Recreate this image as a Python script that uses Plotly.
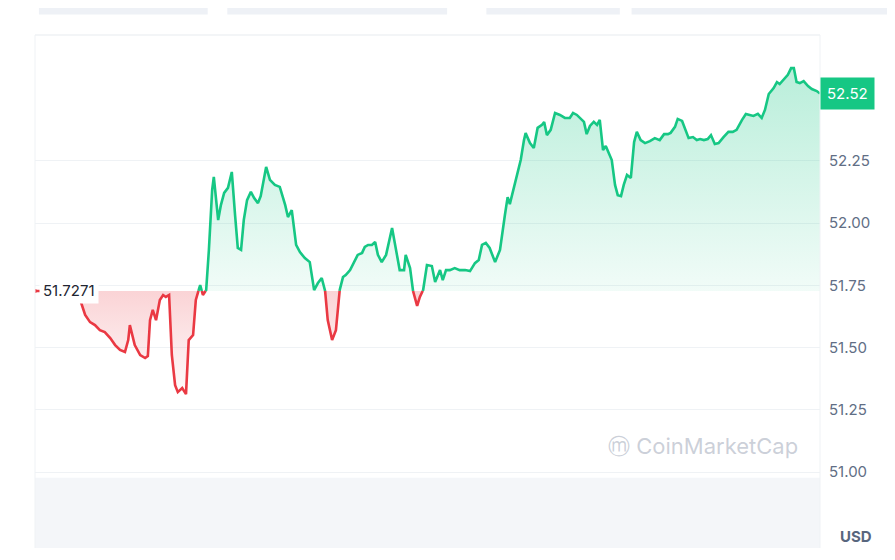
import numpy as np
import plotly.graph_objects as go

# minutes from start of the day, price in USD
minutes = [0, 9, 18, 46, 73, 83, 92, 101, 110, 119, 128, 138, 147, 156, 165, 171, 174, 183, 193, 202,
           207, 211, 216, 222, 229, 235, 240, 246, 251, 257, 262, 270, 277, 282, 290, 295, 303, 308, 314, 319,
           325, 328, 336, 341, 347, 354, 361, 367, 372, 378, 383, 389, 396, 402, 409, 414, 420, 424, 431, 440,
           449, 459, 464, 471, 479, 486, 495, 504, 512, 519, 526, 532, 537, 545, 552, 559, 565, 570, 578, 585,
           592, 600, 605, 611, 618, 624, 629, 636, 644, 655, 662, 669, 677, 680, 688, 693, 701, 706, 712, 719,
           728, 734, 743, 748, 754, 761, 770, 779, 789, 798, 807, 814, 820, 827, 834, 844, 853, 862, 867, 871,
           877, 882, 888, 891, 897, 900, 908, 915, 922, 930, 934, 939, 946, 954, 963, 972, 981, 987, 994, 1000,
           1007, 1012, 1018, 1025, 1031, 1036, 1042, 1047, 1053, 1058, 1064, 1069, 1075, 1080, 1086, 1093, 1099, 1104, 1111, 1119,
           1128, 1137, 1146, 1154, 1161, 1166, 1174, 1179, 1187, 1194, 1199, 1207, 1214, 1220, 1227, 1234, 1240, 1247, 1254, 1263,
           1272, 1280, 1287, 1297, 1304, 1311, 1318, 1326, 1333, 1339, 1346, 1355, 1361, 1366, 1372, 1381, 1387, 1392, 1397, 1403,
           1410, 1418, 1425, 1434, 1440]
prices = [51.7271, 51.727, 51.723, 51.711, 51.699, 51.691, 51.631, 51.602, 51.590, 51.570, 51.562, 51.538, 51.510, 51.490, 51.482, 51.530, 51.590, 51.510, 51.470, 51.458,
          51.466, 51.610, 51.651, 51.610, 51.691, 51.711, 51.703, 51.711, 51.470, 51.349, 51.321, 51.337, 51.313, 51.530, 51.550, 51.691, 51.751, 51.711, 51.731, 51.892,
          52.133, 52.185, 52.012, 52.072, 52.121, 52.141, 52.205, 52.032, 51.900, 51.892, 52.012, 52.092, 52.125, 52.100, 52.080, 52.108, 52.181, 52.225, 52.173, 52.153,
          52.145, 52.072, 52.024, 52.052, 51.912, 51.883, 51.859, 51.843, 51.731, 51.759, 51.779, 51.731, 51.610, 51.530, 51.570, 51.731, 51.783, 51.791, 51.811, 51.839,
          51.872, 51.880, 51.904, 51.912, 51.912, 51.924, 51.872, 51.843, 51.872, 51.980, 51.892, 51.811, 51.811, 51.872, 51.819, 51.731, 51.667, 51.703, 51.731, 51.831,
          51.827, 51.763, 51.811, 51.771, 51.811, 51.811, 51.819, 51.811, 51.811, 51.807, 51.839, 51.851, 51.912, 51.920, 51.900, 51.843, 51.892, 52.032, 52.104, 52.076,
          52.133, 52.173, 52.233, 52.253, 52.333, 52.361, 52.321, 52.301, 52.382, 52.394, 52.406, 52.353, 52.374, 52.442, 52.434, 52.422, 52.422, 52.442, 52.434, 52.422,
          52.406, 52.357, 52.390, 52.406, 52.394, 52.414, 52.293, 52.309, 52.281, 52.253, 52.153, 52.112, 52.108, 52.153, 52.193, 52.181, 52.325, 52.366, 52.333, 52.321,
          52.329, 52.341, 52.333, 52.357, 52.357, 52.362, 52.386, 52.418, 52.410, 52.374, 52.341, 52.345, 52.333, 52.337, 52.333, 52.337, 52.353, 52.317, 52.321, 52.345,
          52.366, 52.366, 52.374, 52.414, 52.438, 52.434, 52.430, 52.438, 52.422, 52.454, 52.518, 52.542, 52.566, 52.558, 52.574, 52.595, 52.622, 52.622, 52.566, 52.562,
          52.570, 52.550, 52.538, 52.530, 52.52]
open_price = 51.7271
last_price = 52.52
tick_vals = [51.00, 51.25, 51.50, 51.75, 52.00, 52.25]

GREEN = "#16c784"
RED = "#ea3943"

# insert crossing points so the line can switch colour exactly at the open price
xs, ys = [minutes[0]], [prices[0]]
for i in range(1, len(prices)):
    p0, p1 = prices[i - 1], prices[i]
    if (p0 - open_price) * (p1 - open_price) < 0:
        t = (open_price - p0) / (p1 - p0)
        xs.append(minutes[i - 1] + t * (minutes[i] - minutes[i - 1]))
        ys.append(open_price)
    xs.append(minutes[i])
    ys.append(p1)
ys = np.array(ys)
up = np.where(ys >= open_price, ys, np.nan)
down = np.where(ys <= open_price, ys, np.nan)

fig = go.Figure()
base = dict(x=xs, y=[open_price] * len(xs), mode="lines", line=dict(width=0), hoverinfo="skip", showlegend=False)
fig.add_trace(go.Scatter(**base))
fig.add_trace(go.Scatter(x=xs, y=np.maximum(ys, open_price), mode="lines", line=dict(width=0),
                         fill="tonexty", showlegend=False,
                         fillgradient=dict(type="vertical",
                                           colorscale=[[0, "rgba(22,199,132,0.06)"], [1, "rgba(22,199,132,0.30)"]])))
fig.add_trace(go.Scatter(**base))
fig.add_trace(go.Scatter(x=xs, y=np.minimum(ys, open_price), mode="lines", line=dict(width=0),
                         fill="tonexty", showlegend=False,
                         fillgradient=dict(type="vertical",
                                           colorscale=[[0, "rgba(234,57,67,0.02)"], [1, "rgba(234,57,67,0.22)"]])))
fig.add_trace(go.Scatter(x=xs, y=up, mode="lines", line=dict(color=GREEN, width=2.6), showlegend=False))
fig.add_trace(go.Scatter(x=xs, y=down, mode="lines", line=dict(color=RED, width=2.6), showlegend=False))
fig.add_trace(go.Scatter(x=[minutes[0]], y=[open_price], mode="markers",
                         marker=dict(color=RED, size=4), showlegend=False))

fig.update_layout(
    width=895, height=560,
    margin=dict(l=27, r=83, t=27, b=20, autoexpand=False),
    paper_bgcolor="white", plot_bgcolor="white",
    font=dict(family="Inter, Roboto, sans-serif", color="#58667e"),
    xaxis=dict(range=[0, 1440], visible=False),
    yaxis=dict(range=[50.695, 52.755], side="right", tickvals=tick_vals,
               ticktext=[f"{v:.2f}" for v in tick_vals], tickfont=dict(size=15, color="#616e85"),
               gridcolor="#eff2f5", zeroline=False, ticks="", ticklabelstandoff=8),
    shapes=[
        dict(type="rect", xref="paper", yref="paper", x0=0, x1=1, y0=0, y1=0.137,
             fillcolor="#f4f6f9", line=dict(width=0), layer="below"),
        dict(type="line", xref="paper", yref="paper", x0=0, x1=1, y0=1, y1=1,
             line=dict(color="#eff2f5", width=1.5)),
        dict(type="line", xref="paper", yref="paper", x0=1, x1=1, y0=0, y1=1,
             line=dict(color="#eff2f5", width=1)),
        dict(type="line", xref="paper", yref="paper", x0=0, x1=0, y0=0, y1=1,
             line=dict(color="#eff2f5", width=1)),
        dict(type="rect", xref="paper", yref="paper", x0=0.005, x1=0.22, y0=1.04, y1=1.053,
             fillcolor="#eef1f6", line=dict(width=0)),
        dict(type="rect", xref="paper", yref="paper", x0=0.245, x1=0.525, y0=1.04, y1=1.053,
             fillcolor="#eef1f6", line=dict(width=0)),
        dict(type="rect", xref="paper", yref="paper", x0=0.575, x1=0.745, y0=1.04, y1=1.053,
             fillcolor="#eef1f6", line=dict(width=0)),
        dict(type="rect", xref="paper", yref="paper", x0=0.76, x1=1.1, y0=1.04, y1=1.053,
             fillcolor="#eef1f6", line=dict(width=0)),
    ],
    annotations=[
        dict(x=minutes[0], y=open_price, xref="x", yref="y", text=str(open_price), showarrow=False,
             xanchor="left", xshift=4, font=dict(size=15, color="#222531"),
             bgcolor="white", borderpad=3),
        dict(x=1, y=last_price, xref="paper", yref="y", text=f"{last_price:.2f}", showarrow=False,
             xanchor="left", xshift=0, font=dict(size=15, color="white"),
             bgcolor=GREEN, borderpad=6),
        dict(x=0.975, y=0.17, xref="paper", yref="paper", text="ⓜ CoinMarketCap", showarrow=False,
             xanchor="right", font=dict(size=22, color="rgba(160,168,184,0.55)")),
        dict(x=1.023, y=0.0, xref="paper", yref="paper", text="<b>USD</b>", showarrow=False,
             xanchor="left", yanchor="bottom", font=dict(size=15, color="#58667e")),
    ],
)

fig.write_html("out.html")
